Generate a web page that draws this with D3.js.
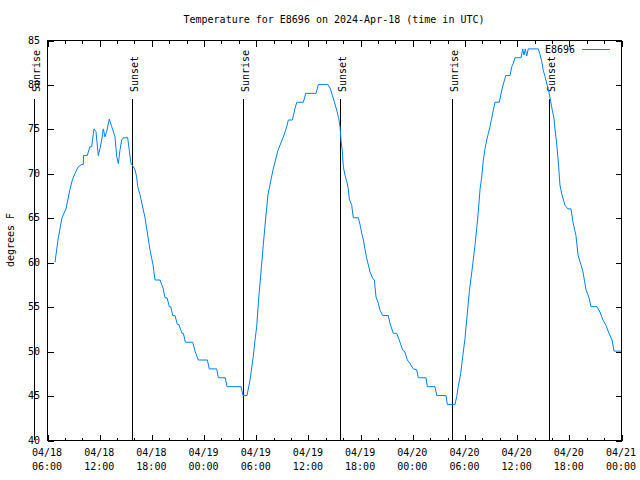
<!DOCTYPE html>
<html><head><meta charset="utf-8">
<script src="https://cdn.jsdelivr.net/npm/d3@7"></script>
<style>
body{margin:0;background:#fff}
svg text{font-family:"DejaVu Sans Mono","Liberation Mono",monospace;font-size:10px;fill:#000}
</style>
</head><body><svg id="c" width="640" height="480"></svg>
<script>
const chartTitle = "Temperature for E8696 on 2024-Apr-18 (time in UTC)";
const seriesName = "E8696";
const yLabel = "degrees F";
const xDomain = ["2024-04-18T06:00Z", "2024-04-21T00:00Z"];
const yTicks = [40, 45, 50, 55, 60, 65, 70, 75, 80, 85];
// hours since 2024-04-18 00:00 UTC
const hours = [6.92,7.26,7.72,8.18,8.64,8.91,9.22,9.6,9.99,10.17,10.2,10.63,10.75,10.94,11.14,11.4,11.63,11.9,12.1,12.29,12.47,12.67,12.86,13.16,13.44,13.82,14.01,14.2,14.39,14.59,14.77,15.28,15.46,15.66,15.92,16.12,16.31,16.43,16.69,17.27,17.84,18.19,18.42,18.99,19.34,19.57,19.8,20.07,20.23,20.46,20.72,20.99,21.15,21.53,21.68,21.91,22.75,23.02,23.4,24.44,24.66,25.51,25.7,26.5,26.7,28.31,28.54,29.0,29.34,29.72,29.92,30.11,30.3,30.72,31.07,31.41,31.99,32.56,33.18,33.57,33.75,34.21,34.52,34.72,35.48,35.75,36.94,37.2,38.28,38.55,38.8,39.03,39.31,39.54,39.69,39.8,39.95,40.07,40.26,40.46,40.64,40.76,41.04,41.22,41.8,42.0,42.19,42.38,42.57,42.77,42.95,43.14,43.45,43.64,43.83,44.09,44.29,44.6,45.24,45.44,45.82,46.21,46.59,46.9,47.16,47.43,47.74,48.12,48.51,48.69,49.58,49.73,50.61,50.81,51.88,52.03,52.91,53.11,53.29,53.57,53.8,54.06,54.26,54.56,54.87,55.21,55.56,55.79,55.99,56.17,56.37,56.56,56.75,56.94,57.13,57.32,57.51,58.01,58.17,58.35,58.55,58.75,59.24,59.44,59.62,59.81,60.5,60.7,60.85,61.0,61.16,61.34,62.49,62.68,62.88,63.06,63.26,63.52,63.75,63.91,64.1,64.29,64.41,64.6,64.72,64.83,64.98,65.21,65.56,65.9,66.25,66.48,66.82,67.06,67.4,67.63,67.98,68.32,68.55,69.24,69.58,69.93,70.27,70.62,70.97,71.2,72.0];
const tempF = [60,62.5,65,66,68.2,69.25,70,70.75,71,71,72,72,72.4,73,73,75,74.7,72,72.8,73.75,75,74.1,74.7,76.1,75.25,74.1,71.9,71.1,72.6,73.75,74,74,72.6,71.1,70.75,70.4,69.6,68.5,67.6,65,61.4,59.7,58,58,57.1,56,56,55,55,54,54,53,53,52,52,51,51,50,49,49,48,48,47,47,46,46,45,45,46.75,49.4,51.25,52.75,55.4,60.25,64.2,67.6,70.4,72.6,74.1,75.25,76,76,77.3,78,78,79,79,80,80,79.6,78.8,78.1,77.1,76.2,75.25,73.75,72.6,70.75,69.8,69.1,68.3,67.1,66.4,65,65,64.2,63.25,62.5,61.4,60.4,59.7,58.9,58.2,58,56.1,55.4,54.6,54,54,53.1,52,52,51,50.1,49.9,49,48.6,48,47.9,47,47,46,46,45,45,44,44,44.9,46,47.5,49.4,51.4,53.5,56.7,59.1,61.9,65.3,68.2,69.6,71.5,72.8,73.75,74.5,75.25,76.2,77.1,78,78,78.8,79.6,80.3,81,81,82,82.4,83,83,84,83.3,84,83.2,84,84,83.4,82.6,81.6,80.9,79.9,79,78.1,77.1,76.2,75,73.4,72.06,70.75,68.7,67.6,66.4,66,66,64.5,63,60.8,59.7,58.9,56.9,56,55,55,54.4,53.5,52.9,52,51.25,50,50];
const sunNames = ["Sunrise", "Sunset", "Sunrise", "Sunset", "Sunrise", "Sunset"];
const sunTimes = ["2024-04-18T04:30Z", "2024-04-18T15:46Z", "2024-04-19T04:32Z", "2024-04-19T15:41Z", "2024-04-20T04:34Z", "2024-04-20T15:44Z"];

const L = 47, R = 621, T = 40, B = 440;
const svg = d3.select("#c");
const base = Date.UTC(2024, 3, 18);
const data = hours.map((h, i) => ({ t: new Date(base + h * 3600e3), v: tempF[i] }));

const x = d3.scaleUtc().domain(xDomain.map(d => new Date(d))).range([L, R]);
const y = d3.scaleLinear().domain([40, 85]).range([B, T]);

const g = svg.append("g").attr("shape-rendering", "crispEdges");

// x ticks (bottom, inward) and mirrored (top)
const majorX = d3.utcHour.every(6), minorX = d3.utcHour.every(2);
function xAxis(gen, ty, size, interval) {
  const a = g.append("g").attr("transform", `translate(0.5,${ty})`)
    .call(gen(x).ticks(interval).tickSize(size).tickFormat(""));
  a.select(".domain").remove();
  a.selectAll("line").attr("stroke", "#000");
}
xAxis(d3.axisBottom, B + 0.5, -3, minorX);
xAxis(d3.axisBottom, B + 0.5, -6, majorX);
xAxis(d3.axisTop, T + 0.5, -3, minorX);
xAxis(d3.axisTop, T + 0.5, -6, majorX);

// y ticks (left inward, right mirrored)
function yAxis(gen, tx, size) {
  const a = g.append("g").attr("transform", `translate(${tx},0.5)`)
    .call(gen(y).tickValues(yTicks).tickSize(size).tickFormat(""));
  a.select(".domain").remove();
  a.selectAll("line").attr("stroke", "#000");
}
yAxis(d3.axisLeft, L + 0.5, -6);
yAxis(d3.axisRight, R + 0.5, -6);

// y tick labels
svg.append("g").selectAll("text").data(yTicks).join("text")
  .attr("x", L - 7).attr("y", d => y(d)).attr("dy", "0.35em")
  .attr("text-anchor", "end").text(d => d);

// x tick labels (two lines)
const fmtD = d3.utcFormat("%m/%d"), fmtT = d3.utcFormat("%H:%M");
const xl = svg.append("g").selectAll("text").data(x.ticks(majorX)).join("text")
  .attr("text-anchor", "middle").attr("transform", d => `translate(${x(d)},0)`);
xl.append("tspan").attr("x", 0).attr("y", 456).text(d => fmtD(d));
xl.append("tspan").attr("x", 0).attr("y", 470).text(d => fmtT(d));

// sunrise / sunset markers
const sun = sunTimes.map((s, i) => ({ t: new Date(s), name: sunNames[i] }));
g.append("g").selectAll("line").data(sun).join("line")
  .attr("x1", d => Math.round(x(d.t)) + 0.5).attr("x2", d => Math.round(x(d.t)) + 0.5)
  .attr("y1", 99).attr("y2", B).attr("stroke", "#000").attr("stroke-width", 1);
svg.append("g").selectAll("text").data(sun).join("text")
  .attr("transform", d => `translate(${Math.round(x(d.t)) + 5.5},92) rotate(-90)`)
  .attr("text-anchor", "start").text(d => d.name);

// data line
svg.append("path").datum(data)
  .attr("fill", "none").attr("stroke", "#0080ff").attr("stroke-width", 1)
  .attr("d", d3.line().x(d => x(d.t)).y(d => y(d.v)));

// frame
g.append("rect").attr("x", L + 0.5).attr("y", T + 0.5).attr("width", R - L).attr("height", B - T)
  .attr("fill", "none").attr("stroke", "#000");

// title, y label
svg.append("text").attr("x", 334).attr("y", 23).attr("text-anchor", "middle").text(chartTitle);
svg.append("text").attr("transform", "translate(14,240) rotate(-90)").attr("text-anchor", "middle").text(yLabel);

// legend
svg.append("text").attr("x", 575).attr("y", 49).attr("dy", "0.35em").attr("text-anchor", "end").text(seriesName);
svg.append("line").attr("x1", 582).attr("x2", 610).attr("y1", 49.5).attr("y2", 49.5)
  .attr("stroke", "#0080ff").attr("stroke-width", 1);
</script></body></html>
